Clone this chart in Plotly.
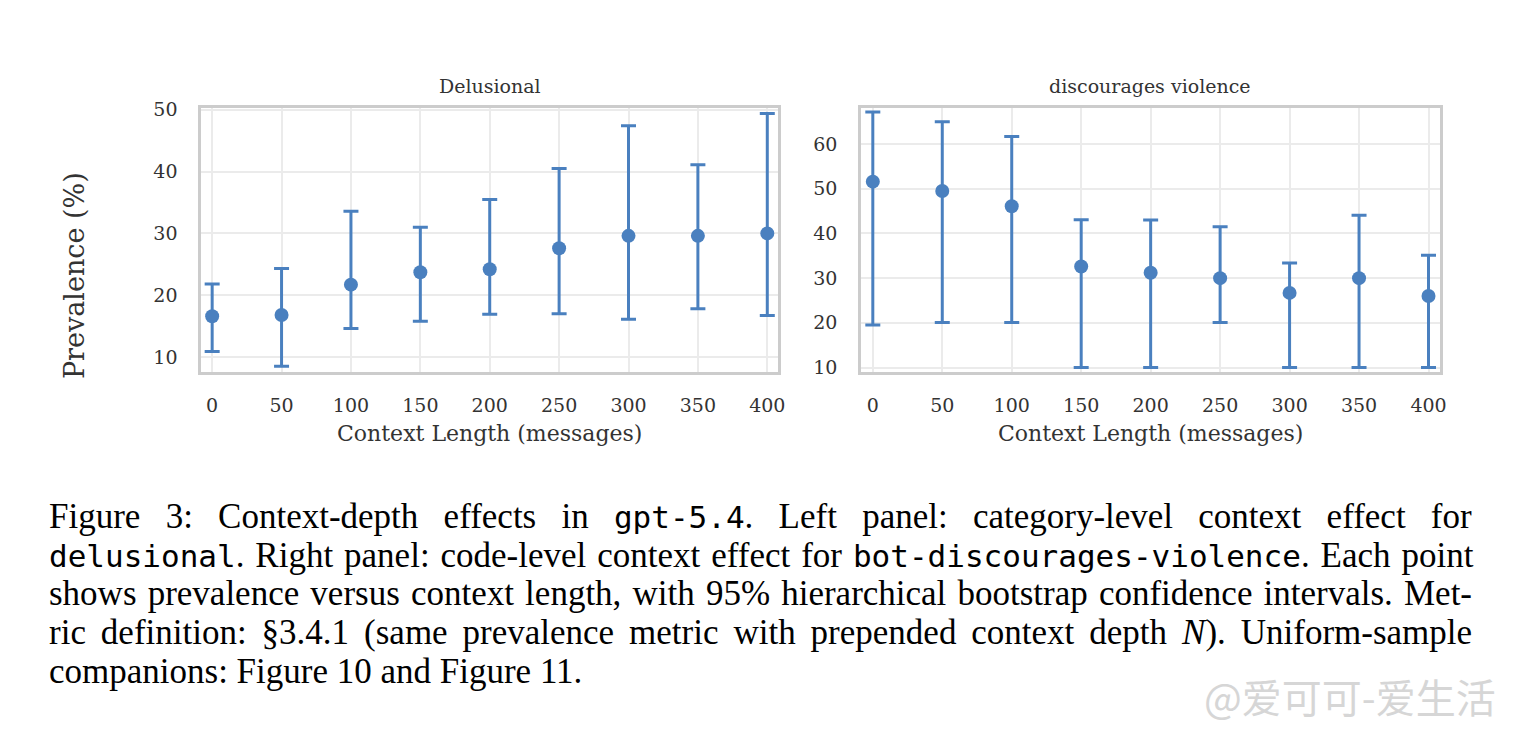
import plotly.graph_objects as go

# context length (messages)
context_len = [0, 50, 100, 150, 200, 250, 300, 350, 400]

# left panel: Delusional (category level)
delusional_mid = [16.6, 16.8, 21.7, 23.7, 24.2, 27.6, 29.6, 29.6, 30.0]
delusional_hi = [21.8, 24.3, 33.6, 31.0, 35.5, 40.5, 47.4, 41.1, 49.4]
delusional_lo = [10.9, 8.5, 14.6, 15.8, 16.9, 17.0, 16.1, 17.8, 16.7]

# right panel: discourages violence (code level)
violence_mid = [51.6, 49.5, 46.1, 32.6, 31.2, 30.0, 26.7, 30.0, 26.0]
violence_hi = [67.2, 65.0, 61.7, 43.1, 43.0, 41.5, 33.4, 44.1, 35.1]
violence_lo = [19.5, 20.1, 20.1, 10.0, 10.0, 20.1, 10.0, 10.0, 10.0]

panel_titles = ["Delusional", "discourages violence"]
x_ticks = [0, 50, 100, 150, 200, 250, 300, 350, 400]

MONO = "<span style='font-family:DejaVu Sans Mono;font-size:31px'>{}</span>"
caption_lines = [
    "Figure 3: Context-depth effects in " + MONO.format("gpt-5.4") +
    ". Left panel: category-level context effect for",
    MONO.format("delusional") + ". Right panel: code-level context effect for " +
    MONO.format("bot-discourages-violence") + ". Each point",
    "shows prevalence versus context length, with 95% hierarchical bootstrap confidence intervals. Met-",
    "ric definition: §3.4.1 (same prevalence metric with prepended context depth <i>N</i>). Uniform-sample",
    "companions: Figure 10 and Figure 11.",
]
# extra word spacing (px) to imitate the justified paragraph
caption_spacing = [16.5, 2.2, 2.4, 6.2, 0]

BLUE = "#4a80bf"
W, H = 1514, 734

fig = go.Figure()


def add_panel(fig, mid, lo, hi, xa, ya):
    fig.add_trace(go.Scatter(
        x=context_len, y=mid, mode="markers",
        marker=dict(color=BLUE, size=14),
        error_y=dict(
            type="data", symmetric=False,
            array=[h - m for h, m in zip(hi, mid)],
            arrayminus=[m - l for m, l in zip(mid, lo)],
            color=BLUE, thickness=3, width=7.5,
        ),
        xaxis=xa, yaxis=ya, showlegend=False,
    ))


add_panel(fig, delusional_mid, delusional_lo, delusional_hi, "x", "y")
add_panel(fig, violence_mid, violence_lo, violence_hi, "x2", "y2")

tick_font = dict(family="DejaVu Serif", size=19, color="#333333")
title_font = dict(family="DejaVu Serif", size=22, color="#333333")
axis_common = dict(
    showline=True, mirror=True, linecolor="#cccccc", linewidth=2.5,
    showgrid=True, gridcolor="#ebebeb", gridwidth=1.5,
    zeroline=False, ticks="", tickfont=tick_font,
)

fig.update_layout(
    width=W, height=H,
    margin=dict(l=0, r=0, t=0, b=0),
    paper_bgcolor="white", plot_bgcolor="white",
    xaxis=dict(domain=[202 / W, 782 / W], anchor="y", range=[-8, 408],
               tickvals=x_ticks, ticklabelstandoff=14,
               title=dict(text="Context Length (messages)", font=title_font, standoff=11),
               **axis_common),
    yaxis=dict(domain=[1 - 371 / H, 1 - 101 / H], anchor="x", range=[7.5, 50.3],
               tickvals=[10, 20, 30, 40, 50], ticklabelstandoff=17,
               **axis_common),
    xaxis2=dict(domain=[865 / W, 1447 / W], anchor="y2", range=[-8.5, 408.5],
                tickvals=x_ticks, ticklabelstandoff=14,
                title=dict(text="Context Length (messages)", font=title_font, standoff=11),
                **axis_common),
    yaxis2=dict(domain=[1 - 371 / H, 1 - 101 / H], anchor="x2", range=[8.9, 68.1],
                tickvals=[10, 20, 30, 40, 50, 60], ticklabelstandoff=17,
                **axis_common),
)

# panel titles
for i, t in enumerate(panel_titles):
    cx = [492, 1155][i]
    fig.add_annotation(x=cx / W, y=1 - 79 / H, xref="paper", yref="paper",
                       text=t, showarrow=False, xanchor="center", yanchor="middle",
                       font=dict(family="DejaVu Serif", size=19, color="#333333"))

# shared y title
fig.add_annotation(x=75 / W, y=1 - 272 / H, xref="paper", yref="paper",
                   text="Prevalence (%)", textangle=-90, showarrow=False,
                   xanchor="center", yanchor="middle",
                   font=dict(family="DejaVu Serif", size=27, color="#333333"))

# caption
for i, line in enumerate(caption_lines):
    fig.add_annotation(x=47 / W, y=1 - (518 + 39.5 * i) / H, xref="paper", yref="paper",
                       text="<span style='word-spacing:%.1fpx'>%s</span>" % (caption_spacing[i], line),
                       showarrow=False, xanchor="left", yanchor="middle",
                       font=dict(family="Liberation Serif", size=35, color="#000000"))

# watermark
fig.add_annotation(x=1505 / W, y=1 - 701 / H, xref="paper", yref="paper",
                   text="@爱可可-爱生活", showarrow=False, xanchor="right", yanchor="middle",
                   font=dict(family="Noto Sans CJK SC", size=40, color="#d6d6d6"))

fig.write_html("out.html", config={"displayModeBar": False},
               post_script="document.body.style.margin='0';")
